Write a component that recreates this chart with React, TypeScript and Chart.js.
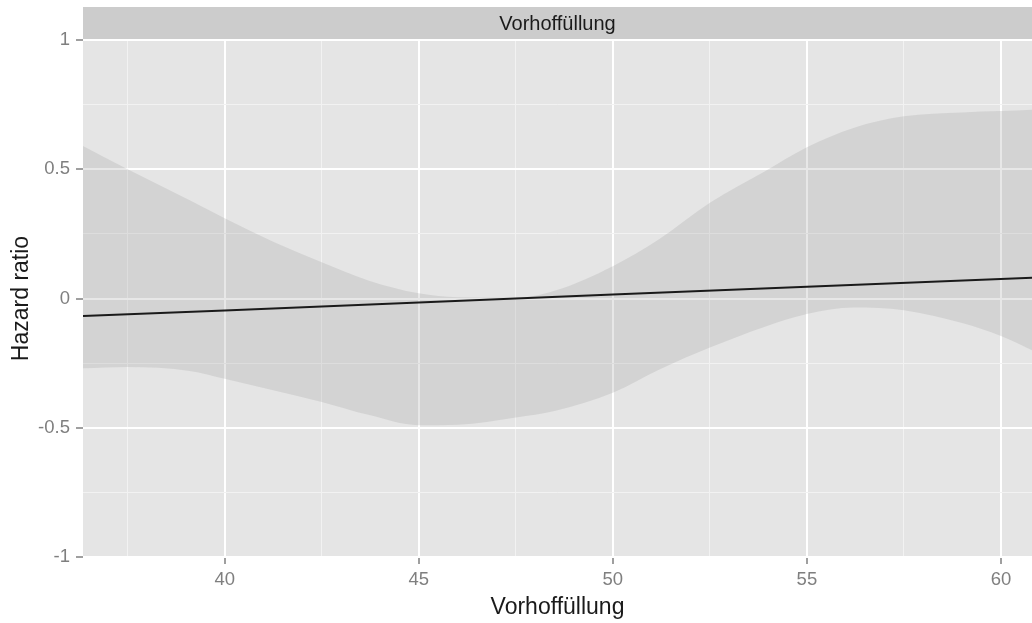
import { useEffect, useRef } from 'react';
import { Chart, registerables } from 'chart.js';

Chart.register(...registerables);

// Confidence band of the hazard-ratio estimate
const bandX = [36.35, 37.5, 39.1, 40, 41.25, 42.5, 43.7, 45, 46, 47.5, 48.5, 50, 51.2, 52.5, 53.9, 55, 56.2, 57.5, 59, 60, 60.8];
const upperCI = [0.59, 0.5, 0.38, 0.31, 0.22, 0.14, 0.07, 0.02, 0.005, 0.003, 0.03, 0.125, 0.23, 0.37, 0.49, 0.585, 0.66, 0.705, 0.72, 0.725, 0.73];
const lowerCI = [-0.27, -0.265, -0.28, -0.31, -0.355, -0.4, -0.45, -0.49, -0.488, -0.46, -0.435, -0.365, -0.275, -0.19, -0.11, -0.06, -0.035, -0.045, -0.095, -0.145, -0.2];

// Fitted hazard ratio
const fitX = [36.35, 40, 45, 50, 55, 60.8];
const fitHR = [-0.068, -0.046, -0.015, 0.015, 0.045, 0.08];

// Axis ticks
const xMajorTicks = [40, 45, 50, 55, 60];
const xMinorTicks = [37.5, 42.5, 47.5, 52.5, 57.5];
const yMajorTicks = [-1, -0.5, 0, 0.5, 1];
const yMinorTicks = [-0.75, -0.25, 0.25, 0.75];

const panelLabel = 'Vorhoffüllung';
const xTitle = 'Vorhoffüllung';
const yTitle = 'Hazard ratio';

const FONT = "'Liberation Sans', Arial, sans-serif";

const isIn = (list: number[], v: number) => list.some((t) => Math.abs(t - v) < 1e-9);

// Panel background and facet strip
const panelPlugin = {
  id: 'panelStrip',
  beforeDraw(chart: any) {
    const { ctx, chartArea } = chart;
    const { left, right, top, bottom } = chartArea;
    ctx.save();
    ctx.fillStyle = '#E5E5E5';
    ctx.fillRect(left, top, right - left, bottom - top);
    ctx.fillStyle = '#CCCCCC';
    ctx.fillRect(left, 7, right - left, top - 8);
    ctx.fillStyle = '#1A1A1A';
    ctx.font = `20px ${FONT}`;
    ctx.textAlign = 'center';
    ctx.textBaseline = 'middle';
    ctx.fillText(panelLabel, (left + right) / 2, 24);
    ctx.restore();
  },
};

function gridFor(major: number[]) {
  return {
    drawOnChartArea: true,
    drawTicks: true,
    tickLength: 7,
    color: (c: any) => (c.tick && isIn(major, c.tick.value) ? '#FFFFFF' : '#F2F2F2'),
    lineWidth: (c: any) => (c.tick && isIn(major, c.tick.value) ? 2 : 1),
    tickColor: (c: any) => (c.tick && isIn(major, c.tick.value) ? '#7F7F7F' : 'rgba(0,0,0,0)'),
    tickWidth: 1.5,
  };
}

export default function App() {
  const canvasRef = useRef<HTMLCanvasElement | null>(null);

  useEffect(() => {
    if (!canvasRef.current) return;
    const chart = new Chart(canvasRef.current, {
      type: 'line',
      data: {
        datasets: [
          {
            label: 'fit',
            data: fitX.map((x, i) => ({ x, y: fitHR[i] })),
            borderColor: '#1A1A1A',
            borderWidth: 2,
            pointRadius: 0,
            fill: false,
          },
          {
            label: 'upper',
            data: bandX.map((x, i) => ({ x, y: upperCI[i] })),
            borderWidth: 0,
            borderColor: 'rgba(0,0,0,0)',
            backgroundColor: 'rgba(153,153,153,0.24)',
            pointRadius: 0,
            cubicInterpolationMode: 'monotone',
            fill: '+1',
          },
          {
            label: 'lower',
            data: bandX.map((x, i) => ({ x, y: lowerCI[i] })),
            borderWidth: 0,
            borderColor: 'rgba(0,0,0,0)',
            pointRadius: 0,
            cubicInterpolationMode: 'monotone',
            fill: false,
          },
        ],
      },
      options: {
        responsive: false,
        animation: false,
        devicePixelRatio: 1,
        layout: { padding: { top: 40, right: 0, bottom: 0, left: 0 } },
        plugins: {
          legend: { display: false },
          tooltip: { enabled: false },
        },
        scales: {
          x: {
            type: 'linear',
            min: 36.35,
            max: 60.8,
            afterBuildTicks: (scale: any) => {
              scale.ticks = [...xMinorTicks, ...xMajorTicks]
                .sort((a, b) => a - b)
                .map((value) => ({ value }));
            },
            afterFit: (scale: any) => {
              scale.height = 66;
            },
            ticks: {
              autoSkip: false,
              maxRotation: 0,
              padding: 5,
              color: '#7F7F7F',
              font: { family: FONT, size: 18.5 },
              callback: (v: any) => (isIn(xMajorTicks, Number(v)) ? String(v) : ''),
            },
            grid: gridFor(xMajorTicks),
            border: { display: false },
            title: {
              display: true,
              text: xTitle,
              color: '#1A1A1A',
              font: { family: FONT, size: 23 },
              padding: { top: 0, bottom: 2 },
            },
          },
          y: {
            type: 'linear',
            min: -1,
            max: 1,
            afterBuildTicks: (scale: any) => {
              scale.ticks = [...yMinorTicks, ...yMajorTicks]
                .sort((a, b) => a - b)
                .map((value) => ({ value }));
            },
            afterFit: (scale: any) => {
              scale.width = 83;
            },
            ticks: {
              autoSkip: false,
              padding: 6,
              color: '#7F7F7F',
              font: { family: FONT, size: 18.5 },
              callback: (v: any) => (isIn(yMajorTicks, Number(v)) ? String(v) : ''),
            },
            grid: gridFor(yMajorTicks),
            border: { display: false },
            title: {
              display: true,
              text: yTitle,
              color: '#1A1A1A',
              font: { family: FONT, size: 23 },
              padding: { top: 8, bottom: 0 },
            },
          },
        },
      },
      plugins: [panelPlugin],
    } as any);
    return () => chart.destroy();
  }, []);

  return (
    <div style={{ position: 'fixed', left: 0, top: 0, width: 1032, height: 623, background: '#FFFFFF' }}>
      <canvas ref={canvasRef} width={1032} height={623} />
    </div>
  );
}
